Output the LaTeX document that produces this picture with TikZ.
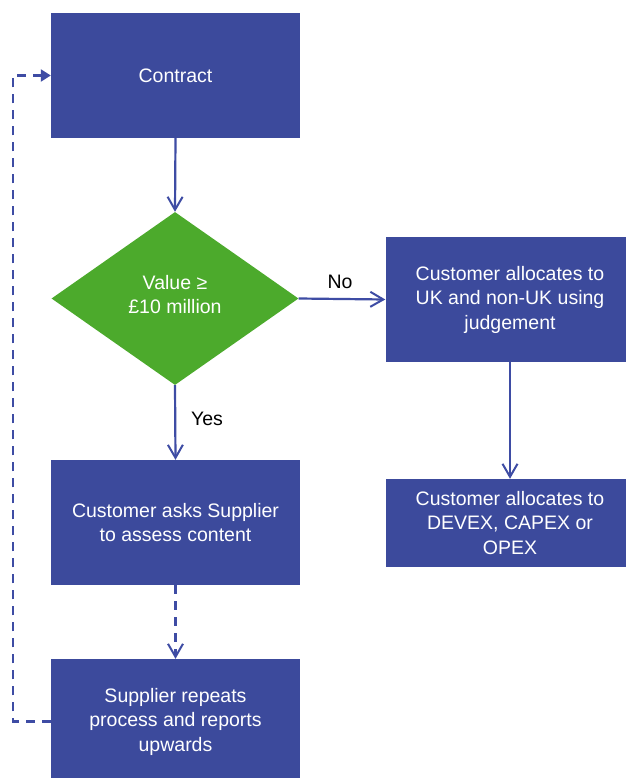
\documentclass[tikz,border=0pt]{standalone}
\usepackage{fontspec}
\setmainfont{Liberation Sans}
\usetikzlibrary{shapes.geometric,arrows.meta}
\definecolor{boxblue}{HTML}{3C4A9C}
\definecolor{lineblue}{HTML}{3E4CA4}
\definecolor{dgreen}{HTML}{4CAA2C}
\tikzset{
  box/.style={fill=boxblue, draw=none, text=white, minimum width=249pt, inner sep=0pt,
    align=center, font=\fontsize{19.5}{24.5}\selectfont},
  decision/.style={diamond, fill=dgreen, draw=none, text=white, minimum width=247pt,
    minimum height=173pt, inner sep=0pt, align=center, font=\fontsize{19.5}{24.5}\selectfont},
  conn/.style={draw=lineblue, line width=2.2pt, -{Straight Barb[length=13pt,width=15pt,line width=2pt]}},
  dconn/.style={conn, dash pattern=on 9pt off 7pt},
  loopconn/.style={draw=lineblue, line width=2.2pt, dash pattern=on 9pt off 7pt,
    -{Triangle[length=10pt,width=12pt]}},
  lbl/.style={text=black, font=\fontsize{19.5}{24.5}\selectfont, inner sep=0pt}
}
\begin{document}
\begin{tikzpicture}[x=1pt,y=-1pt]
\useasboundingbox[fill=white] (0,0) rectangle (625,778);
\node[box, minimum height=125pt] (c) at (175.5,75.5) {Contract};
\node[decision] (d) at (175,298.5) {\raisebox{4pt}[\height][\depth]{\parbox{105pt}{\centering Value ≥\\£10 million}}};
\node[box, minimum height=125pt] (r1) at (510,299.5) {Customer allocates to\\UK and non-UK using\\judgement};
\node[box, minimum height=88pt] (r2) at (510,523) {Customer allocates to\\DEVEX, CAPEX or\\OPEX};
\node[box, minimum height=125pt] (a) at (175.5,522.5) {Customer asks Supplier\\to assess content};
\node[box, minimum height=125pt] (s) at (175.5,721.5) {Supplier repeats\\process and reports\\upwards};
\node[lbl] (no) at (340,282) {No};
\node[lbl] (yes) at (207,419) {Yes};
\coordinate (lt) at (13,75.5);
\draw[conn] (c.south) -- (d.north);
\draw[conn] (d.east) -- (r1.west);
\draw[conn] (d.south) -- (a.north);
\draw[conn] (r1.south) -- (r2.north);
\draw[dconn] (a.south) -- (s.north);
\draw[loopconn] (s.west) -- (s.west -| lt) -- (lt) -- (c.west);
\end{tikzpicture}
\end{document}
